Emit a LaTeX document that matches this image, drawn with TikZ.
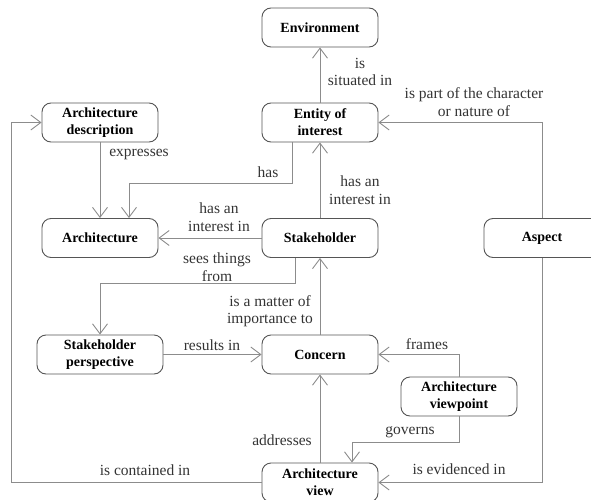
\documentclass[tikz,border=0pt]{standalone}
\usepackage{fontspec}
\setmainfont{Liberation Serif}
\usepackage{tikz}
\usetikzlibrary{arrows.meta, positioning}
\definecolor{boxgray}{HTML}{555555}
\definecolor{linegray}{HTML}{8C8C8C}
\definecolor{labelgray}{HTML}{333333}

\begin{document}
\begin{tikzpicture}[x=1pt, y=-1pt,
  concept/.style={rectangle, rounded corners=9pt, draw=boxgray, line width=0.9pt,
    minimum width=116pt, minimum height=39pt, align=center, inner sep=2pt,
    font=\fontsize{14}{17}\selectfont\bfseries},
  rel/.style={font=\fontsize{15.5}{17.5}\selectfont, color=labelgray, align=center, inner sep=1pt},
  conn/.style={draw=linegray, line width=0.9pt, -{Straight Barb[length=10pt, width=15pt]}}
]
  \clip (0,0) rectangle (591,500);

  % Concepts
  \node[concept] (env) at (320, 27.5) {Environment};
  \node[concept] (eoi) at (320, 122.5) {Entity of\\interest};
  \node[concept] (ad) at (100, 122.5) {Architecture\\description};
  \node[concept] (arch) at (100, 238) {Architecture};
  \node[concept] (sh) at (320, 238) {Stakeholder};
  \node[concept] (aspect) at (542, 238) {Aspect};
  \node[concept, minimum width=126pt] (sp) at (100, 354.5) {Stakeholder\\perspective};
  \node[concept] (concern) at (320, 354.5) {Concern};
  \node[concept] (avp) at (459, 396.5) {Architecture\\viewpoint};
  \node[concept] (av) at (320, 482.5) {Architecture\\view};

  % Relations
  \draw[conn] (eoi) -- (env);
  \draw[conn] (sh) -- (eoi);
  \draw[conn] (aspect.north) |- (eoi.east);
  \draw[conn] (ad) -- (arch);
  \draw[conn] ([xshift=-28pt]eoi.south) -- ++(0,41) -| ([xshift=29pt]arch.north);
  \draw[conn] (sh) -- (arch);
  \draw[conn] ([xshift=-25pt]sh.south) -- ++(0,25) -| (sp.north);
  \draw[conn] (concern) -- (sh);
  \draw[conn] (sp) -- (concern);
  \draw[conn] (avp.north) |- (concern.east);
  \draw[conn] (avp.south) -- ++(0,26) -| ([xshift=32pt]av.north);
  \draw[conn] (av) -- (concern);
  \draw[conn] (av.west) -- ++(-250,0) |- (ad.west);
  \draw[conn] (aspect.south) |- (av.east);

  % Labels
  \node[rel] (l-situated) at (360, 72) {is\\situated in};
  \node[rel] (l-part) at (474, 102) {is part of the character\\or nature of};
  \node[rel] (l-expresses) at (139, 154) {expresses};
  \node[rel] (l-has) at (268, 172) {has};
  \node[rel] (l-interest1) at (219, 217) {has an\\interest in};
  \node[rel] (l-interest2) at (360, 190) {has an\\interest in};
  \node[rel] (l-sees) at (217, 267) {sees things\\from};
  \node[rel] (l-matter) at (270, 311) {is a matter of\\importance to};
  \node[rel] (l-results) at (212, 345) {results in};
  \node[rel] (l-frames) at (427, 344) {frames};
  \node[rel] (l-governs) at (410, 432) {governs};
  \node[rel] (l-addresses) at (282, 440) {addresses};
  \node[rel] (l-contained) at (145, 470) {is contained in};
  \node[rel] (l-evidenced) at (459, 469) {is evidenced in};
\end{tikzpicture}
\end{document}
